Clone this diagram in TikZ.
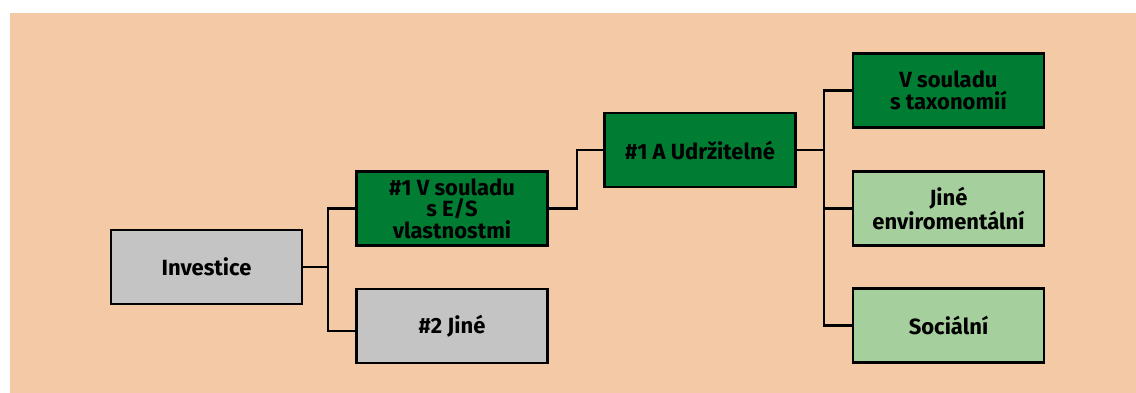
\documentclass[tikz,border=0pt]{standalone}
\usepackage{fontspec}
\setmainfont{Fira Sans}
\usepackage{tikz}
\definecolor{peach}{RGB}{243,201,166}
\definecolor{darkgreen}{RGB}{0,125,50}
\definecolor{lightgreen}{RGB}{165,207,157}
\definecolor{boxgray}{RGB}{196,196,196}
\begin{document}
\begin{tikzpicture}[x=1pt,y=-1pt]
\tikzstyle{box}=[rectangle, draw=black, line width=2.8pt, minimum width=191pt,
    minimum height=74pt, inner sep=2pt, align=center,
    font=\fontsize{22}{21.5}\selectfont\bfseries]
\tikzstyle{link}=[line width=2.4pt, black]

    \useasboundingbox (0,0) rectangle (1136,392);
    \fill[white] (0,0) rectangle (1136,392);
    \fill[peach] (10,13) rectangle (1146,402);

    \node[box, fill=boxgray] (inv) at (206.5,267) {Investice};

    \node[box, fill=darkgreen] (es) at (452,208.5) {\#1 V souladu\\s E/S\\vlastnostmi};
\node[box, fill=boxgray] (jine) at (452,326) {\#2 Jiné};

 \node[box, fill=darkgreen] (udr) at (700,150) {\#1 A Udržitelné};

\node[box, fill=darkgreen] (tax) at (948.5,90.5) {V souladu\\s taxonomií};
\node[box, fill=lightgreen] (env) at (948.5,208.5) {Jiné\\enviromentální};
\node[box, fill=lightgreen] (soc) at (948.5,325.5) {Sociální};

\coordinate (j1) at (328,267);
\coordinate (j2) at (577,180);
\coordinate (j3) at (824,150);

\draw[link] (inv.east)--(j1);
\draw[link] (es.west) -| (j1) |- ([yshift=-5pt]jine.west);
\draw[link] (es.east) -| (j2) |- (udr.west);
\draw[link] (udr.east)--(j3);
\draw[link] (tax.west) -| (j3) |- (soc.west);
\draw[link] (j3) |- (env.west);
\end{tikzpicture}
\end{document}
